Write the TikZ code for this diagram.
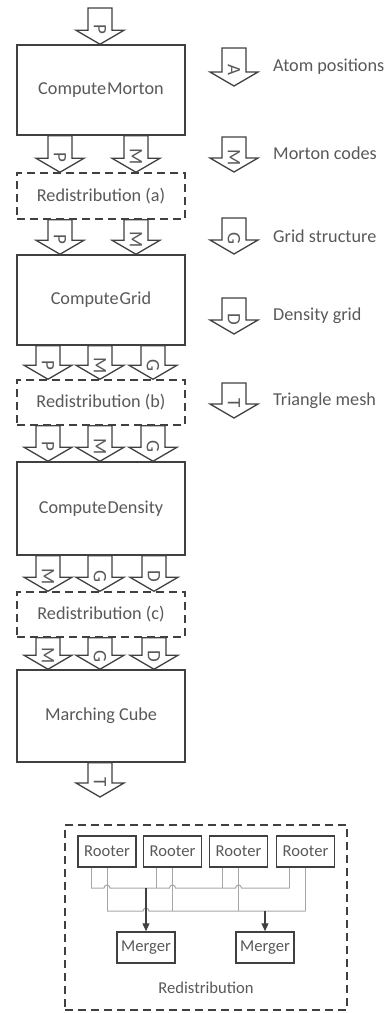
\documentclass[tikz,border=0pt]{standalone}
\usepackage{fontspec}
\setmainfont{Carlito}
\usetikzlibrary{arrows.meta,calc}
\definecolor{ln}{HTML}{404040}
\definecolor{tx}{HTML}{595959}
\definecolor{wire}{HTML}{A6A6A6}
\tikzset{
  box/.style={draw=ln, line width=1.5pt, fill=white, inner sep=0pt, text=tx,
    font=\fontsize{18.2}{21}\selectfont, minimum width=168pt},
  dbox/.style={box, dash pattern=on 8pt off 5pt},
  lbl/.style={text=tx, font=\fontsize{18.2}{21}\selectfont, anchor=west, inner sep=0pt},
  barr/.style={draw=ln, line width=1.3pt, fill=white, line join=miter},
  arrlet/.style={text=tx, font=\fontsize{19}{21}\selectfont, rotate=-90, inner sep=0pt},
  sbox/.style={draw=ln, line width=1.5pt, fill=white, inner sep=0pt, text=tx,
    font=\fontsize{16.6}{19}\selectfont, minimum width=58pt, minimum height=31pt},
  wire/.style={draw=wire, line width=1pt},
  marr/.style={draw=ln, line width=1.2pt, -{Triangle[length=8pt,width=7pt]}},
}
% block arrow: #1 start point, #2 tip point, #3 x (pt number), #4 letter
\newcommand\barrow[4]{%
  \draw[barr] let \p1=(#1), \p2=(#2) in
    ({#3pt-12pt},\y1) -- ({#3pt-12pt},{\y2+14pt}) -- ({#3pt-24pt},{\y2+14pt})
    -- ({#3pt},\y2) -- ({#3pt+24pt},{\y2+14pt}) -- ({#3pt+12pt},{\y2+14pt})
    -- ({#3pt+12pt},\y1) -- cycle;
  \path let \p1=(#1), \p2=(#2) in
    node[arrlet] at ({#3pt},{0.42*\y1+0.58*\y2}) {#4};
}
\begin{document}
\begin{tikzpicture}[x=1pt,y=1pt]
\useasboundingbox (0,0) rectangle (391,-1013);

% main column
\node[box, minimum height=90pt] (cm) at (101,-90) {Compute\kern1pt Morton};
\node[dbox, minimum height=46pt] (ra) at (101,-196) {Redistribution (a)};
\node[box, minimum height=90pt] (cg) at (101,-300) {Compute\kern1pt Grid};
\node[dbox, minimum height=45pt] (rb) at (101,-402.5) {Redistribution (b)};
\node[box, minimum height=93pt] (cd) at (101,-508.5) {Compute\kern1pt Density};
\node[dbox, minimum height=45pt] (rc) at (101,-614.5) {Redistribution (c)};
\node[box, minimum height=92pt] (mc) at (101,-716) {Marching Cube};

\coordinate (in) at (100,-8);
\coordinate (out) at (100,-797);

\barrow{in}{cm.north}{100}{P}
\barrow{cm.south}{ra.north}{60}{P}
\barrow{cm.south}{ra.north}{136}{M}
\barrow{ra.south}{cg.north}{60}{P}
\barrow{ra.south}{cg.north}{136}{M}
\barrow{cg.south}{rb.north}{48}{P}
\barrow{cg.south}{rb.north}{100}{M}
\barrow{cg.south}{rb.north}{153}{G}
\barrow{rb.south}{cd.north}{48}{P}
\barrow{rb.south}{cd.north}{100}{M}
\barrow{rb.south}{cd.north}{153}{G}
\barrow{cd.south}{rc.north}{48}{M}
\barrow{cd.south}{rc.north}{100}{G}
\barrow{cd.south}{rc.north}{154}{D}
\barrow{rc.south}{mc.north}{48}{M}
\barrow{rc.south}{mc.north}{100}{G}
\barrow{rc.south}{mc.north}{154}{D}
\barrow{mc.south}{out}{100}{T}

% legend
\coordinate (a1) at (234,-48);  \coordinate (a2) at (234,-86);
\coordinate (m1) at (234,-137); \coordinate (m2) at (234,-172);
\coordinate (g1) at (234,-218); \coordinate (g2) at (234,-254);
\coordinate (d1) at (234,-298); \coordinate (d2) at (234,-334);
\coordinate (t1) at (234,-383); \coordinate (t2) at (234,-418);
\barrow{a1}{a2}{234}{A}
\barrow{m1}{m2}{234}{M}
\barrow{g1}{g2}{234}{G}
\barrow{d1}{d2}{234}{D}
\barrow{t1}{t2}{234}{T}
\node[lbl] (la) at (273,-67) {Atom positions};
\node[lbl] (lm) at (273,-153) {Morton codes};
\node[lbl] (lg) at (273,-236) {Grid structure};
\node[lbl] (ld) at (273,-316) {Density grid};
\node[lbl] (lt) at (273,-401) {Triangle mesh};

% redistribution detail
\node[draw=ln, line width=1.3pt, dash pattern=on 8pt off 5pt, minimum width=282pt,
  minimum height=185pt, inner sep=0pt] (rd) at (206,-917.5) {};
\node[text=tx, font=\fontsize{16.6}{19}\selectfont, inner sep=0pt] (rdl) at (206,-988) {Redistribution};

\node[sbox] (r1) at (107,-851.5) {Rooter};
\node[sbox] (r2) at (172.5,-851.5) {Rooter};
\node[sbox] (r3) at (238.5,-851.5) {Rooter};
\node[sbox] (r4) at (305.5,-851.5) {Rooter};
\node[sbox] (g1m) at (146,-947.5) {Merger};
\node[sbox] (g2m) at (265,-947.5) {Merger};

\coordinate (ub) at (0,-888);
\coordinate (lb) at (0,-911);

% left drops to upper bus, centre drops to lower bus
\foreach \r in {r1,r2,r3,r4}{
  \draw[wire] ([xshift=-16pt]\r.south) -- ([xshift=-16pt]\r.south |- ub);
  \draw[wire] (\r.south) -- (\r.south |- lb);
}
% upper bus with hops over the centre drops
\draw[wire] ([xshift=-16pt]r1.south |- ub) -- ([xshift=-3pt]r1.south |- ub)
  arc[start angle=180, end angle=0, radius=3pt]
  -- ([xshift=-3pt]r2.south |- ub)
  arc[start angle=180, end angle=0, radius=3pt]
  -- ([xshift=-3pt]r3.south |- ub)
  arc[start angle=180, end angle=0, radius=3pt]
  -- ([xshift=-16pt]r4.south |- ub);
% lower bus with hop over the merger arrow
\draw[wire] (r1.south |- lb) -- ([xshift=-3pt]g1m.north |- lb)
  arc[start angle=180, end angle=0, radius=3pt]
  -- (r4.south |- lb);
% arrows to mergers
\draw[marr] (g1m.north |- ub) -- (g1m.north);
\draw[marr] (g2m.north |- lb) -- (g2m.north);
\end{tikzpicture}
\end{document}
